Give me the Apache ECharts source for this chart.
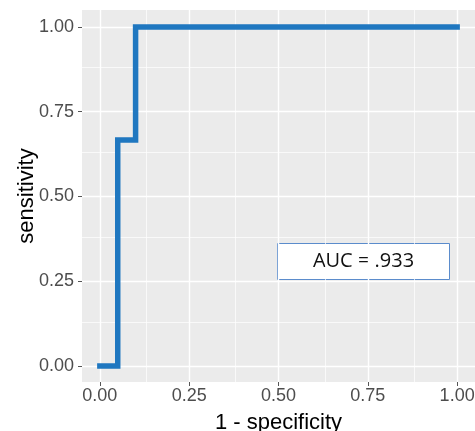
<!DOCTYPE html>
<html><head><meta charset="utf-8">
<script src="https://cdn.jsdelivr.net/npm/echarts@6/dist/echarts.min.js"></script>
<style>html,body{margin:0;padding:0;background:#fff}#c{width:475px;height:431px}</style>
</head><body><div id="c"></div>
<script>
// ROC step curve
const fpr = [0, 0.05, 0.05, 0.1, 0.1, 1];
const tpr = [0, 0, 0.667, 0.667, 1, 1];
const tickValues = [0, 0.25, 0.5, 0.75, 1];
const minorValues = [0.125, 0.375, 0.625, 0.875];
const tickLabels = ['0.00', '0.25', '0.50', '0.75', '1.00'];
const aucText = 'AUC = .933';

const chart = echarts.init(document.getElementById('c'));
const fmt = v => { const i = tickValues.findIndex(t => Math.abs(t - v) < 1e-9); return i >= 0 ? tickLabels[i] : ''; };
const gridLines = [];
tickValues.forEach(v => { gridLines.push({xAxis: v, lineStyle: {width: 1.4}}); gridLines.push({yAxis: v, lineStyle: {width: 1.4}}); });
minorValues.forEach(v => { gridLines.push({xAxis: v, lineStyle: {width: 0.7}}); gridLines.push({yAxis: v, lineStyle: {width: 0.7}}); });

const nameStyle = {fontSize: 22, color: '#000', fontFamily: 'Liberation Sans'};
const labelStyle = {fontSize: 18, color: '#4d4d4d', fontFamily: 'Liberation Sans'};
const axisCommon = {
  type: 'value', nameLocation: 'middle', nameTextStyle: nameStyle, nameMoveOverlap: false,
  axisLine: {show: false, onZero: false},
  axisTick: {show: true, customValues: tickValues, length: 4, lineStyle: {color: '#555', width: 1}},
  splitLine: {show: false}
};

chart.setOption({
  animation: false,
  grid: {left: 82, top: 10, right: 0, bottom: 49, show: true, backgroundColor: '#ebebeb', borderWidth: 0, outerBoundsMode: 'none', containLabel: false},
  xAxis: Object.assign({}, axisCommon, {
    min: -0.05, max: 1.05, name: '1 - specificity', nameGap: 30,
    axisLabel: Object.assign({customValues: tickValues, formatter: fmt, margin: 5}, labelStyle)
  }),
  yAxis: Object.assign({}, axisCommon, {
    min: -0.047, max: 1.05, name: 'sensitivity', nameGap: 44,
    axisLabel: Object.assign({customValues: tickValues, formatter: fmt, margin: 8}, labelStyle)
  }),
  series: [
    {
      type: 'line', data: [], z: 1, silent: true,
      markLine: {silent: true, z: 1, symbol: ['none', 'none'], label: {show: false},
        lineStyle: {color: '#ffffff', type: 'solid'}, data: gridLines, animation: false}
    },
    {
      type: 'line', z: 20, symbol: 'none', silent: true,
      data: fpr.map((x, i) => [x, tpr[i]]),
      lineStyle: {color: '#1f77c0', width: 5.5, cap: 'square', join: 'miter'}
    }
  ],
  graphic: [{
    type: 'group', left: 277, top: 243, z: 30,
    children: [
      {type: 'rect', shape: {x: 0, y: 0, width: 172, height: 36}, style: {fill: '#fff', stroke: '#5b8ccc', lineWidth: 1}},
      {type: 'text', x: 86, y: 18, style: {text: aucText, fontSize: 20, fill: '#111', fontFamily: 'Open Sans', align: 'center', verticalAlign: 'middle'}}
    ]
  }]
});
</script></body></html>
